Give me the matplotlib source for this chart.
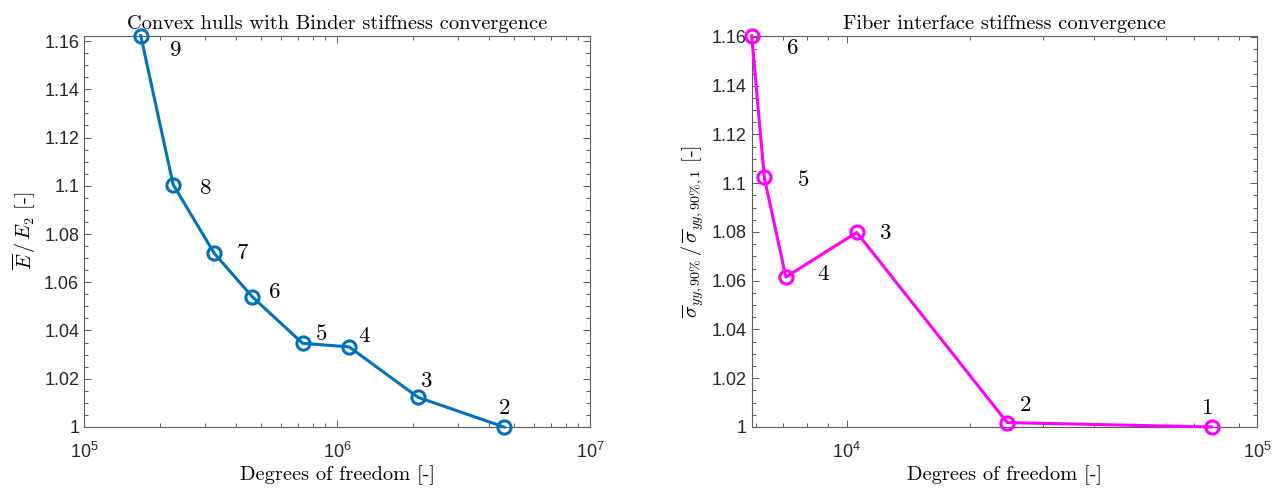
import numpy as np
import matplotlib
matplotlib.use("Agg")
import matplotlib.pyplot as plt
from matplotlib.ticker import LogLocator, MultipleLocator, NullFormatter

plt.rcParams["font.family"] = ["Liberation Sans", "DejaVu Sans"]
plt.rcParams["mathtext.fontset"] = "cm"
plt.rcParams["axes.unicode_minus"] = False

# Convex hulls with binder: refinement level, DOFs, normalised stiffness
binder_levels = [9, 8, 7, 6, 5, 4, 3, 2]
binder_dofs = [1.676e5, 2.25e5, 3.27e5, 4.63e5, 7.31e5, 1.117e6, 2.09e6, 4.57e6]
binder_stiff = [1.1622, 1.1005, 1.0720, 1.0539, 1.0347, 1.0332, 1.0123, 1.0000]

# Fiber interface: refinement level, DOFs, normalised 90% stress
fiber_levels = [6, 5, 4, 3, 2, 1]
fiber_dofs = [5870, 6300, 7110, 10580, 24600, 77400]
fiber_stress = [1.1605, 1.1024, 1.0615, 1.0798, 1.0018, 1.0000]

# label offsets (pixels) for the level numbers
binder_offsets = [(34, -14), (32, -3), (28, 1), (22, 5), (19, 10), (15, 11), (8, 17), (0, 19)]
fiber_offsets = [(41, -12), (39, -2), (38, 4), (29, 0), (18, 18), (-5, 19)]

blue = "#0072BD"
magenta = "#FF00FF"
frame = "#5a5a5a"
tick_col = "#262626"

fig = plt.figure(figsize=(12.81, 4.90), dpi=100)
ax1 = fig.add_axes([0.0656, 0.1286, 0.3950, 0.7985])
ax2 = fig.add_axes([0.5868, 0.1286, 0.3947, 0.7985])


def style_axes(ax):
    for s in ax.spines.values():
        s.set_color(frame)
        s.set_linewidth(0.8)
    ax.tick_params(which="both", direction="in", top=True, right=True,
                   color=frame, labelcolor=tick_col, labelsize=13, width=0.7)
    ax.tick_params(which="major", length=5)
    ax.tick_params(which="minor", length=3)
    ax.tick_params(axis="x", which="major", pad=11)
    ax.yaxis.set_major_locator(MultipleLocator(0.02))
    ax.yaxis.set_minor_locator(MultipleLocator(0.005))
    ax.xaxis.set_minor_locator(LogLocator(base=10, subs=np.arange(2, 10)))
    ax.xaxis.set_minor_formatter(NullFormatter())
    ax.yaxis.set_major_formatter(plt.FuncFormatter(lambda v, p: f"{v:.2f}".rstrip("0").rstrip(".")))


def draw(ax, x, y, levels, offsets, color):
    ax.plot(x, y, "-o", color=color, lw=2.2, ms=9.5, mfc="none", mew=2.2,
            clip_on=False, zorder=3)
    for xi, yi, lv, (dx, dy) in zip(x, y, levels, offsets):
        ax.annotate(f"${lv}$", (xi, yi), xytext=(dx, dy), textcoords="offset pixels",
                    ha="center", va="center", fontsize=16.5, color="black")


draw(ax1, binder_dofs, binder_stiff, binder_levels, binder_offsets, blue)
ax1.set_xscale("log")
ax1.set_xlim(1e5, 1e7)
ax1.set_ylim(1.0, max(binder_stiff))
style_axes(ax1)
ax1.set_title("Convex hulls with Binder stiffness convergence", family="cmr10",
              fontsize=14.7, pad=5)
ax1.set_xlabel("Degrees of freedom [-]", family="cmr10", fontsize=14.7, labelpad=2)
ax1.set_ylabel(r"$\overline{E}\,/\,E_2$ [-]", family="cmr10", fontsize=14.5, labelpad=4)

draw(ax2, fiber_dofs, fiber_stress, fiber_levels, fiber_offsets, magenta)
ax2.set_xscale("log")
ax2.set_xlim(min(fiber_dofs), 1e5)
ax2.set_ylim(1.0, max(fiber_stress))
style_axes(ax2)
ax2.set_title("Fiber interface stiffness convergence", family="cmr10",
              fontsize=14.7, pad=5)
ax2.set_xlabel("Degrees of freedom [-]", family="cmr10", fontsize=14.7, labelpad=2)
ax2.set_ylabel(r"$\overline{\sigma}_{yy,90\%}\,/\,\overline{\sigma}_{yy,90\%,1}$ [-]",
               family="cmr10", fontsize=14.5, labelpad=4)

fig.savefig("out.png", dpi=100)
